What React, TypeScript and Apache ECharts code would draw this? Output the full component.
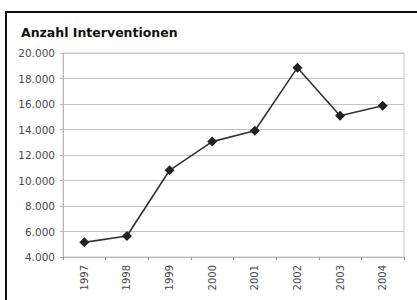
import React, { useEffect, useRef } from "react";
import * as echarts from "echarts";

const years = ["1997", "1998", "1999", "2000", "2001", "2002", "2003", "2004"];
const interventions = [5150, 5650, 10800, 13050, 13900, 18850, 15080, 15870];
const titleText = "Anzahl Interventionen";

function fmt(v: number): string {
  const s = String(Math.round(v));
  return s.replace(/\B(?=(\d{3})+(?!\d))/g, ".");
}

export default function App() {
  const ref = useRef<HTMLDivElement>(null);
  useEffect(() => {
    if (!ref.current) return;
    const chart = echarts.init(ref.current, null, { renderer: "svg" });
    chart.setOption({
      animation: false,
      backgroundColor: "#ffffff",
      title: {
        text: titleText,
        left: 16,
        top: 21,
        textStyle: {
          fontFamily: "DejaVu Sans",
          fontWeight: "bold",
          fontSize: 12.5,
          color: "#111",
        },
      },
      graphic: [
        {
          type: "rect",
          shape: { x: 6, y: 12, width: 430, height: 310 },
          style: { fill: "none", stroke: "#111", lineWidth: 2 },
          silent: true,
        },
      ],
      grid: {
        left: 63,
        right: 13,
        top: 53,
        bottom: 43,
        show: true,
        borderColor: "#c8c8c8",
        borderWidth: 1,
      },
      xAxis: {
        type: "category",
        data: years,
        boundaryGap: true,
        axisLine: { lineStyle: { color: "#bbbbbb", width: 1 } },
        axisTick: { show: true, length: 3, lineStyle: { color: "#999" } },
        axisLabel: {
          rotate: 90,
          color: "#4a4a4a",
          fontFamily: "DejaVu Sans",
          fontSize: 10,
          margin: 8,
        },
      },
      yAxis: {
        type: "value",
        min: 4000,
        max: 20000,
        interval: 2000,
        axisLine: { show: true, lineStyle: { color: "#bbbbbb" } },
        axisTick: { show: true, length: 3, lineStyle: { color: "#bbbbbb" } },
        splitLine: { lineStyle: { color: "#c4c4c4", width: 1 } },
        axisLabel: {
          color: "#4a4a4a",
          fontFamily: "DejaVu Sans",
          fontSize: 10.5,
          margin: 8,
          formatter: (v: number) => fmt(v),
        },
      },
      series: [
        {
          type: "line",
          data: interventions,
          symbol: "diamond",
          symbolSize: 10,
          lineStyle: { color: "#333333", width: 1.6 },
          itemStyle: { color: "#222222" },
        },
      ],
    });
    return () => chart.dispose();
  }, []);
  return (
    <div
      ref={ref}
      style={{ position: "fixed", left: 0, top: 0, width: 417, height: 300 }}
    />
  );
}
